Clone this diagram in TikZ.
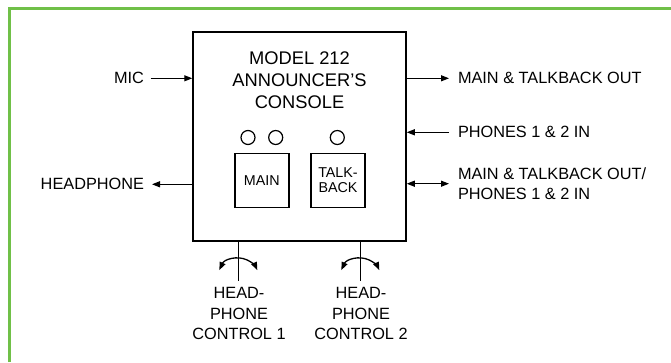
\documentclass[tikz,border=0pt]{standalone}
\usepackage{fontspec}
\setmainfont{Liberation Sans}
\usetikzlibrary{arrows.meta}
\definecolor{framegreen}{RGB}{112,192,72}
\begin{document}
\begin{tikzpicture}[x=1pt,y=-1pt,
  lbl/.style={font=\fontsize{16.3}{20.5}\selectfont, inner sep=0pt, outer sep=0pt},
  ttl/.style={font=\fontsize{18.3}{22}\selectfont, inner sep=0pt, align=center},
  btn/.style={draw, line width=1.4pt, minimum width=54pt, minimum height=54pt, inner sep=0pt, align=center, font=\fontsize{14.3}{15}\selectfont},
  led/.style={draw, circle, line width=1.2pt, minimum size=14pt, inner sep=0pt},
  conn/.style={line width=1.3pt, -{Triangle[length=8pt,width=6pt]}},
  bconn/.style={line width=1.3pt, {Triangle[length=8pt,width=6pt]}-{Triangle[length=8pt,width=6pt]}},
  stem/.style={line width=1.3pt}]
\useasboundingbox (0,0) rectangle (671,362);
\fill[white] (0,0) rectangle (671,362);
\draw[framegreen, line width=3pt] (9.3,362) -- (9.3,8) -- (671,8);

% console box
\node[draw, line width=1.5pt, minimum width=213pt, minimum height=209pt, inner sep=0pt] (console) at (299.5,136.7) {};
\node[ttl] (title) at (299.5,80) {MODEL 212\\ANNOUNCER'S\\CONSOLE};

% LEDs and buttons
\node[led] (led1) at (248,137.5) {};
\node[led] (led2) at (275.7,137.5) {};
\node[led] (led3) at (337.3,137.5) {};
\node[btn] (main) at (261.8,180.3) {MAIN};
\node[btn] (talk) at (338,180.3) {TALK-\\BACK};

% left labels
\node[lbl, anchor=east] (mic) at (144,78.3) {MIC};
\node[lbl, anchor=east] (hp) at (144,184.3) {HEADPHONE};

% right labels
\node[lbl, anchor=west] (mainout) at (458,78.3) {MAIN \& TALKBACK OUT};
\node[lbl, anchor=west] (phin) at (458,132.3) {PHONES 1 \& 2 IN};
\node[lbl, anchor=west, align=left] (both) at (458,183.7) {MAIN \& TALKBACK OUT/\\PHONES 1 \& 2 IN};

% bottom labels
\node[lbl, align=center] (ctl1) at (239,313.7) {HEAD-\\PHONE\\CONTROL 1};
\node[lbl, align=center] (ctl2) at (361,313.7) {HEAD-\\PHONE\\CONTROL 2};

% connectors
\draw[conn, shorten <=6.5pt] (mic.east) -- (mic.east -| console.west);
\draw[conn, shorten >=8pt] (hp.east -| console.west) -- (hp.east);
\draw[conn, shorten >=9pt] (mainout.west -| console.east) -- (mainout.west);
\draw[conn, shorten <=9pt] (phin.west) -- (phin.west -| console.east);
\draw[bconn, shorten >=9pt] (both.west -| console.east) -- (both.west);

% headphone control knobs
\coordinate (k1) at (238.3,279);
\coordinate (k2) at (360.3,279);
\draw[stem] (k1 |- console.south) -- ([yshift=-2.3pt]k1);
\draw[stem] (k2 |- console.south) -- ([yshift=-2.3pt]k2);
\draw[bconn] ([shift={(205:21)}]k1) arc (205:335:21);
\draw[bconn] ([shift={(205:21)}]k2) arc (205:335:21);
\end{tikzpicture}
\end{document}
